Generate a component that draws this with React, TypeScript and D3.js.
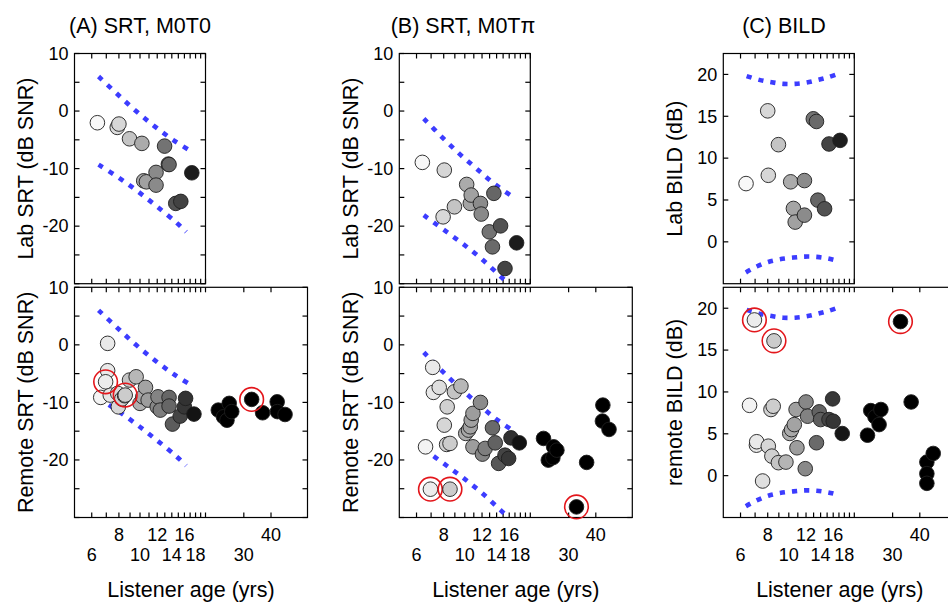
import React from 'react';
import * as d3 from 'd3';

// ---------------- data ----------------
// Lab, SRT M0T0
const labAgeA = [6.37, 7.86, 8.0, 8.95, 10.2, 10.4, 10.7, 11.85, 11.85, 12.97, 13.5, 13.6, 14.6, 15.4, 17.3];
const labSrtA = [-2.03, -2.84, -2.26, -4.82, -5.62, -12.12, -12.3, -10.66, -12.87, -6.09, -9.22, -9.3, -16.05, -15.7, -10.73];
// Lab, SRT M0Tpi
const labAgeB = [6.38, 8.05, 10.2, 10.7, 8.96, 7.95, 10.6, 11.8, 11.9, 13.6, 14.6, 12.96, 13.4, 15.3, 17.3];
const labSrtB = [-8.92, -10.26, -12.75, -14.6, -16.64, -18.38, -16.05, -16.05, -17.9, -14.3, -19.95, -20.99, -23.6, -27.36, -22.9];
// Lab BILD
const labAgeC = [6.36, 8.0, 8.05, 8.96, 10.2, 11.8, 10.5, 10.7, 11.8, 12.96, 13.4, 13.6, 14.6, 15.3, 17.2];
const labBild = [6.96, 15.65, 7.95, 11.61, 7.17, 7.32, 3.99, 2.36, 3.19, 14.7, 14.38, 4.98, 3.95, 11.69, 12.12];

// Remote, SRT M0T0
const remAgeA = [7.1, 7.1, 6.6, 7.3, 7.95, 7.9, 8.25, 8.5, 8.95, 9.6, 10.6, 10.3, 10.0, 10.9, 12.1, 12.0, 12.4, 13.6, 13.6, 14.1, 15.3, 16.2, 16.0, 17.7, 22.9, 24.2, 25.1, 25.7, 26.4, 36.6, 42.7, 42.8, 46.4];
const remSrtA = [0.26, -4.5, -9.13, -8.73, -10.77, -8.43, -9.4, -8.84, -6.12, -5.55, -7.39, -9.03, -10.17, -9.6, -9.03, -10.77, -11.34, -9.13, -10.64, -13.77, -12.38, -9.3, -10.77, -12.03, -11.34, -12.5, -13.1, -10.17, -11.6, -11.8, -9.9, -11.6, -12.1];
// Remote, SRT M0Tpi
const remAgeB = [7.12, 7.63, 7.17, 8.96, 9.6, 8.3, 8.05, 6.6, 8.25, 8.55, 11.8, 10.9, 10.7, 10.6, 10.4, 10.1, 10.9, 12.05, 12.4, 13.4, 13.8, 15.3, 15.9, 14.3, 16.3, 17.8, 23.0, 25.6, 26.5, 24.2, 25.4, 36.3, 43.1, 42.9, 46.0];
const remSrtB = [-3.91, -7.39, -8.26, -8.16, -7.17, -10.77, -13.95, -17.72, -17.3, -17.13, -10.0, -11.91, -13.08, -14.24, -14.82, -15.39, -17.72, -18.99, -18.0, -14.42, -17.03, -19.17, -19.74, -20.6, -16.16, -17.03, -16.26, -17.72, -18.3, -20.03, -19.6, -20.43, -10.47, -13.25, -14.7];
// Remote BILD
const remAgeC = [6.6, 8.48, 8.28, 7.12, 7.1, 8.05, 8.36, 8.96, 9.7, 7.58, 10.8, 12.0, 12.2, 10.6, 10.3, 10.1, 10.9, 13.4, 11.9, 13.8, 14.0, 15.3, 16.0, 15.9, 17.6, 23.0, 23.8, 26.5, 24.9, 26.0, 36.5, 43.1, 46.1, 43.1, 43.1];
const remBild = [8.4, 8.29, 7.9, 4.05, 3.64, 3.52, 2.33, 1.55, 1.62, -0.64, 7.9, 8.8, 7.1, 6.1, 5.5, 5.04, 3.33, 3.93, 0.83, 7.62, 6.7, 6.7, 6.5, 9.17, 5.03, 4.83, 7.77, 7.9, 7.02, 6.1, 8.8, 1.62, 2.65, 0.24, -0.92];

// Circled (highlighted) remote listeners
const outlierAge = [6.95, 8.55, 32.6];
const outlierSrtA = [-6.42, -8.73, -9.48];
const outlierSrtB = [-25.08, -25.08, -28.16];
const outlierBild = [18.6, 16.1, 18.4];

// Normative range bounds
const boundUpAgeA = [6.45, 7.86, 9.55, 11.63, 14.22, 17.35];
const boundUpA = [6.0, 2.96, 0.05, -2.61, -5.04, -7.1];
const boundLoAgeA = [6.45, 8.0, 9.82, 12.01, 14.75, 16.3];
const boundLoA = [-9.3, -11.6, -14.03, -16.64, -19.43, -21.0];
const boundUpAgeB = [6.48, 7.83, 9.4, 11.34, 13.77, 17.1];
const boundUpB = [-1.3, -4.47, -7.36, -10.03, -12.75, -15.2];
const boundLoAgeB = [6.48, 8.05, 9.84, 12.03, 14.67, 15.9];
const boundLoB = [-18.1, -20.7, -23.13, -25.79, -28.8, -30.0];
const boundUpAgeC = [6.4, 7.32, 8.34, 9.43, 10.68, 12.08, 13.66, 15.19, 17.0];
const boundUpC = [19.8, 19.35, 19.07, 18.87, 18.87, 19.03, 19.35, 19.67, 20.1];
const boundLoAgeC = [6.35, 7.12, 8.05, 9.11, 10.49, 11.87, 13.43, 15.19, 17.0];
const boundLoC = [-3.65, -2.95, -2.4, -2.08, -1.88, -1.76, -1.8, -2.0, -2.32];

const xTickVals = [6, 7, 8, 9, 10, 11, 12, 13, 14, 15, 16, 17, 18, 19, 20, 30, 40];
const xLabelsRow1 = [8, 12, 16, 40];
const xLabelsRow2 = [6, 10, 14, 18, 30];
const srtTicks = [-30, -25, -20, -15, -10, -5, 0, 5, 10];
const srtLabels = [10, 0, -10, -20];
const bildTicks = [0, 5, 10, 15, 20];
const bildLabels = [0, 5, 10, 15, 20];

const titles = ['(A) SRT, M0T0', '(B) SRT, M0T\u03c0', '(C) BILD'];

// ---------------- layout ----------------
const FONT = '"Liberation Sans", Arial, Helvetica, sans-serif';
const PX_PER_LN = 94.5;
const PANEL_X = [74.5, 399.3, 723.3];
const TITLE_X = [140, 463, 784];
const TOP_Y = 53.5;
const BOT_Y = 287.3;
const PANEL_H = 230.2;
const BLUE = '#3c3cff';

type Pt = [number, number];
const zip = (a: number[], b: number[]): Pt[] => a.map((x, i) => [x, b[i]] as Pt);

const grayScale = d3.scaleLinear<string>().domain([6, 18]).range(['#ffffff', '#0e0e0e']).clamp(true);
const fillFor = (age: number) => (age > 19 ? '#000000' : grayScale(age));

interface PanelProps {
  x0: number;
  y0: number;
  maxAge: number;
  yDomain: [number, number];
  yTicks: number[];
  yLabels: number[];
  yTitle: string;
  pts: Pt[];
  outliers?: Pt[];
  bounds: Pt[][];
  showX: boolean;
}

function Panel(p: PanelProps) {
  const width = PX_PER_LN * Math.log(p.maxAge / 5);
  const xs = d3.scaleLog().domain([5, p.maxAge]).range([p.x0, p.x0 + width]);
  const ys = d3.scaleLinear().domain(p.yDomain).range([p.y0 + PANEL_H, p.y0]);
  const x1 = p.x0 + width;
  const y1 = p.y0 + PANEL_H;
  const tl = 5;
  const line = d3
    .line<Pt>()
    .x((d) => xs(d[0]))
    .y((d) => ys(d[1]))
    .curve(d3.curveCatmullRom.alpha(0.5));
  const xt = xTickVals.filter((t) => t <= p.maxAge + 0.01);
  const sorted = [...p.pts].sort((a, b) => a[0] - b[0]);
  return (
    <g>
      <rect x={p.x0} y={p.y0} width={width} height={PANEL_H} fill="none" stroke="#000" strokeWidth={1.2} />
      {xt.map((t) => (
        <g key={'xt' + t}>
          <line x1={xs(t)} x2={xs(t)} y1={p.y0} y2={p.y0 + tl} stroke="#000" strokeWidth={1.2} />
          <line x1={xs(t)} x2={xs(t)} y1={y1} y2={y1 - tl} stroke="#000" strokeWidth={1.2} />
        </g>
      ))}
      {p.yTicks.map((t) => (
        <g key={'yt' + t}>
          <line x1={p.x0} x2={p.x0 + tl} y1={ys(t)} y2={ys(t)} stroke="#000" strokeWidth={1.2} />
          <line x1={x1} x2={x1 - tl} y1={ys(t)} y2={ys(t)} stroke="#000" strokeWidth={1.2} />
        </g>
      ))}
      {p.yLabels.map((t) => (
        <text key={'yl' + t} x={p.x0 - 6} y={ys(t) + 6.3} textAnchor="end" fontSize={18} fontFamily={FONT} fill="#000">
          {t}
        </text>
      ))}
      <text
        transform={`translate(${p.x0 - 41.5},${p.y0 + PANEL_H / 2}) rotate(-90)`}
        textAnchor="middle"
        fontSize={21.5}
        fontFamily={FONT}
        fill="#000"
      >
        {p.yTitle}
      </text>
      {p.bounds.map((b, i) => (
        <path key={'b' + i} d={line(b) || ''} fill="none" stroke={BLUE} strokeWidth={4.6} strokeDasharray="5.2 7" />
      ))}
      {sorted.map((d, i) => (
        <circle key={'p' + i} cx={xs(d[0])} cy={ys(d[1])} r={7.3} fill={fillFor(d[0])} stroke="#1e1e1e" strokeWidth={0.9} />
      ))}
      {(p.outliers || []).map((d, i) => (
        <g key={'o' + i}>
          <circle cx={xs(d[0])} cy={ys(d[1])} r={7.3} fill={fillFor(d[0])} stroke="#1e1e1e" strokeWidth={0.9} />
          <circle cx={xs(d[0])} cy={ys(d[1])} r={11.8} fill="none" stroke="#e3161b" strokeWidth={1.6} />
        </g>
      ))}
      {p.showX && (
        <g fontSize={18} fontFamily={FONT} fill="#000" textAnchor="middle">
          {xLabelsRow1.map((t) => (
            <text key={'r1' + t} x={xs(t)} y={540.7}>
              {t}
            </text>
          ))}
          {xLabelsRow2.map((t) => (
            <text key={'r2' + t} x={xs(t)} y={560.7}>
              {t}
            </text>
          ))}
          <text x={p.x0 + 116.5} y={596.5} fontSize={21.5}>
            Listener age (yrs)
          </text>
        </g>
      )}
    </g>
  );
}

export default function App() {
  const bottomMax = 5 * Math.exp(233 / PX_PER_LN);
  const srtDom: [number, number] = [-30, 10];
  const bildDom: [number, number] = [-5, 22.5];
  return (
    <svg
      width={948}
      height={603}
      viewBox="0 0 948 603"
      style={{ position: 'absolute', left: 0, top: 0, background: '#fff' }}
    >
      <rect x={0} y={0} width={948} height={603} fill="#fff" />
      {titles.map((t, i) => (
        <text key={t} x={TITLE_X[i]} y={32.5} textAnchor="middle" fontSize={21.5} fontFamily={FONT} fill="#000">
          {t}
        </text>
      ))}
      {/* Column A */}
      <Panel
        x0={PANEL_X[0]}
        y0={TOP_Y}
        maxAge={20}
        yDomain={srtDom}
        yTicks={srtTicks}
        yLabels={srtLabels}
        yTitle="Lab SRT (dB SNR)"
        pts={zip(labAgeA, labSrtA)}
        bounds={[zip(boundUpAgeA, boundUpA), zip(boundLoAgeA, boundLoA)]}
        showX={false}
      />
      <Panel
        x0={PANEL_X[0]}
        y0={BOT_Y}
        maxAge={bottomMax}
        yDomain={srtDom}
        yTicks={srtTicks}
        yLabels={srtLabels}
        yTitle="Remote SRT (dB SNR)"
        pts={zip(remAgeA, remSrtA)}
        outliers={zip(outlierAge, outlierSrtA)}
        bounds={[zip(boundUpAgeA, boundUpA), zip(boundLoAgeA, boundLoA)]}
        showX={true}
      />
      {/* Column B */}
      <Panel
        x0={PANEL_X[1]}
        y0={TOP_Y}
        maxAge={20}
        yDomain={srtDom}
        yTicks={srtTicks}
        yLabels={srtLabels}
        yTitle="Lab SRT (dB SNR)"
        pts={zip(labAgeB, labSrtB)}
        bounds={[zip(boundUpAgeB, boundUpB), zip(boundLoAgeB, boundLoB)]}
        showX={false}
      />
      <Panel
        x0={PANEL_X[1]}
        y0={BOT_Y}
        maxAge={bottomMax}
        yDomain={srtDom}
        yTicks={srtTicks}
        yLabels={srtLabels}
        yTitle="Remote SRT (dB SNR)"
        pts={zip(remAgeB, remSrtB)}
        outliers={zip(outlierAge, outlierSrtB)}
        bounds={[zip(boundUpAgeB, boundUpB), zip(boundLoAgeB, boundLoB)]}
        showX={true}
      />
      {/* Column C */}
      <Panel
        x0={PANEL_X[2]}
        y0={TOP_Y}
        maxAge={20}
        yDomain={bildDom}
        yTicks={bildTicks}
        yLabels={bildLabels}
        yTitle="Lab BILD (dB)"
        pts={zip(labAgeC, labBild)}
        bounds={[zip(boundUpAgeC, boundUpC), zip(boundLoAgeC, boundLoC)]}
        showX={false}
      />
      <Panel
        x0={PANEL_X[2]}
        y0={BOT_Y}
        maxAge={bottomMax}
        yDomain={bildDom}
        yTicks={bildTicks}
        yLabels={bildLabels}
        yTitle="remote BILD (dB)"
        pts={zip(remAgeC, remBild)}
        outliers={zip(outlierAge, outlierBild)}
        bounds={[zip(boundUpAgeC, boundUpC), zip(boundLoAgeC, boundLoC)]}
        showX={true}
      />
    </svg>
  );
}
